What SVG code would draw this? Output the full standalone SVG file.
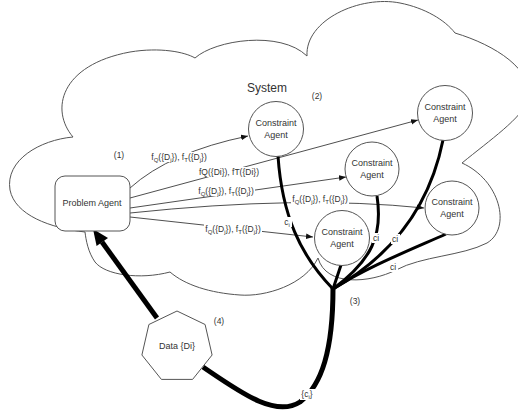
<svg xmlns="http://www.w3.org/2000/svg" width="518" height="411" viewBox="0 0 518 411">
<defs>
<style>
text{font-family:"Liberation Sans","Open Sans",Arial,sans-serif;fill:#333;}
.lbl{font-size:8.5px;text-anchor:middle;}
.node{font-size:9px;text-anchor:middle;}
.thin{fill:none;stroke:#222;stroke-width:0.8;marker-end:url(#arr);}
.thick{fill:none;stroke:#000;stroke-width:3;}
.bg{fill:#fff;stroke:none;}
.shape{fill:#fff;stroke:#555;stroke-width:1;}
</style>
<marker id="arr" viewBox="0 0 10 10" refX="10" refY="5" markerWidth="7" markerHeight="7" markerUnits="userSpaceOnUse" orient="auto"><path d="M0,1 L10,5 L0,9 z" fill="#111"/></marker>
</defs>
<rect width="518" height="411" fill="#fff"/>
<g id="system-cloud">
<path d="M73,137 C50,110 60,65 130,52 C160,47 185,52 195,58 C215,40 280,30 307,56 C305,20 360,-5 400,3 C425,8 445,20 455,33 C495,45 535,70 528,100 C522,118 490,140 462,163 C500,180 512,228 487,243 C462,256 422,256 396,270 C370,283 326,287 318,258 C305,285 265,297 240,295 C210,293 185,285 170,272 C140,280 105,275 95,262 C88,252 86,240 85,232 C50,228 15,215 10,190 C5,160 40,140 73,137 Z" fill="none" stroke="#555" stroke-width="1"/>
<text x="267" y="92" style="font-size:12px;text-anchor:middle">System</text>
</g>
<g id="connectors">
<path class="thin" d="M130,188 Q170,152 248,136"/>
<path class="thin" d="M130,198 L418,120"/>
<path class="thin" d="M130,208 L346,177"/>
<path class="thin" d="M130,213 Q300,195 424,208"/>
<path class="thin" d="M130,217 L313,237"/>
<path class="thick" d="M278,156 C282,215 300,255 333,289"/>
<path class="thick" d="M377,196 C383,235 372,260 333,289"/>
<path class="thick" d="M443,140 C432,195 402,250 333,289"/>
<path class="thick" d="M446,234 C410,250 365,268 333,289"/>
<path class="thick" d="M341,265 L333,289"/>
<path fill="none" stroke="#000" stroke-width="5" d="M333,288 C333,350 322,385 300,402 C275,418 240,392 203,367"/>
<path fill="none" stroke="#000" stroke-width="5" d="M157,318 L102,242"/>
<polygon points="93,229 108,237.9 96.6,246.1" fill="#000"/>
<rect class="bg" x="150" y="152" width="58" height="10"/>
<text class="lbl" x="179" y="160">f<tspan font-size="6" dy="2">Q</tspan><tspan dy="-2">({D</tspan><tspan font-size="6" dy="2">j</tspan><tspan dy="-2">}), f</tspan><tspan font-size="6" dy="2">T</tspan><tspan dy="-2">({D</tspan><tspan font-size="6" dy="2">j</tspan><tspan dy="-2">})</tspan></text>
<rect class="bg" x="197" y="167" width="64" height="10"/>
<text class="lbl" x="229" y="175">fQ({Di}), fT({Di})</text>
<rect class="bg" x="197" y="186" width="58" height="10"/>
<text class="lbl" x="226" y="194">f<tspan font-size="6" dy="2">Q</tspan><tspan dy="-2">({D</tspan><tspan font-size="6" dy="2">j</tspan><tspan dy="-2">}), f</tspan><tspan font-size="6" dy="2">T</tspan><tspan dy="-2">({D</tspan><tspan font-size="6" dy="2">j</tspan><tspan dy="-2">})</tspan></text>
<rect class="bg" x="291" y="194" width="58" height="10"/>
<text class="lbl" x="320" y="202">f<tspan font-size="6" dy="2">Q</tspan><tspan dy="-2">({D</tspan><tspan font-size="6" dy="2">j</tspan><tspan dy="-2">}), f</tspan><tspan font-size="6" dy="2">T</tspan><tspan dy="-2">({D</tspan><tspan font-size="6" dy="2">j</tspan><tspan dy="-2">})</tspan></text>
<rect class="bg" x="204" y="224" width="58" height="10"/>
<text class="lbl" x="233" y="232">f<tspan font-size="6" dy="2">Q</tspan><tspan dy="-2">({D</tspan><tspan font-size="6" dy="2">j</tspan><tspan dy="-2">}), f</tspan><tspan font-size="6" dy="2">T</tspan><tspan dy="-2">({D</tspan><tspan font-size="6" dy="2">j</tspan><tspan dy="-2">})</tspan></text>
<rect class="bg" x="283" y="217" width="9" height="10"/>
<text class="lbl" x="287" y="225">c<tspan font-size="6" dy="2">i</tspan></text>
<rect class="bg" x="372" y="233" width="9" height="10"/>
<text class="lbl" x="376" y="241">ci</text>
<rect class="bg" x="391" y="234" width="9" height="10"/>
<text class="lbl" x="395" y="242">ci</text>
<rect class="bg" x="389" y="262" width="9" height="10"/>
<text class="lbl" x="393" y="270">ci</text>
<rect class="bg" x="300" y="389" width="15" height="11"/>
<text class="lbl" x="307" y="397">{c<tspan font-size="6" dy="2">i</tspan><tspan dy="-2">}</tspan></text>
<text class="lbl" x="119" y="158">(1)</text>
<text class="lbl" x="317" y="99">(2)</text>
<text class="lbl" x="355" y="304">(3)</text>
<text class="lbl" x="219" y="324">(4)</text>
</g>
<g id="problem-agent">
<rect class="shape" x="55" y="176" width="75" height="55" rx="10"/>
<text class="node" x="92" y="206">Problem Agent</text>
</g>
<g id="constraint-agent-1">
<circle class="shape" cx="276" cy="129" r="27.5"/>
<text class="node" x="276" y="126">Constraint</text>
<text class="node" x="276" y="138">Agent</text>
</g>
<g id="constraint-agent-2">
<circle class="shape" cx="445" cy="113" r="27.5"/>
<text class="node" x="445" y="110">Constraint</text>
<text class="node" x="445" y="122">Agent</text>
</g>
<g id="constraint-agent-3">
<circle class="shape" cx="372" cy="169" r="27"/>
<text class="node" x="372" y="166">Constraint</text>
<text class="node" x="372" y="178">Agent</text>
</g>
<g id="constraint-agent-4">
<circle class="shape" cx="452" cy="208" r="27"/>
<text class="node" x="452" y="205">Constraint</text>
<text class="node" x="452" y="217">Agent</text>
</g>
<g id="constraint-agent-5">
<circle class="shape" cx="342" cy="238" r="27.5"/>
<text class="node" x="342" y="235">Constraint</text>
<text class="node" x="342" y="247">Agent</text>
</g>
<g id="data">
<polygon class="shape" points="177,311 205.1,324.5 212.1,355 192.6,379.4 161.4,379.4 141.9,355 148.9,324.5"/>
<text class="node" x="177" y="349">Data {Di}</text>
</g>
</svg>
